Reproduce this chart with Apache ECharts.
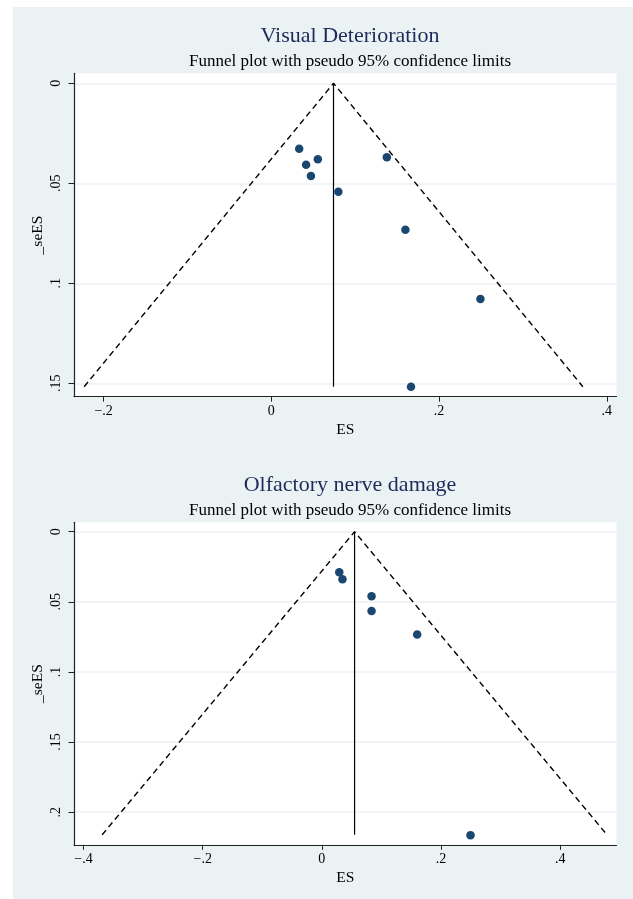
<!DOCTYPE html>
<html>
<head>
<meta charset="utf-8">
<script src="https://cdn.jsdelivr.net/npm/echarts@6/dist/echarts.min.js"></script>
<style>
html,body{margin:0;padding:0;background:#ffffff;}
#chart{width:633px;height:899px;}
</style>
</head>
<body>
<div id="chart"></div>
<script>
// ---- Panel 1: Visual Deterioration ----
const vdTitle = 'Visual Deterioration';
const vdES = [0.0332, 0.0554, 0.0414, 0.0472, 0.0799, 0.1377, 0.1598, 0.2493, 0.1665];
const vdSE = [0.0327, 0.0380, 0.0407, 0.0463, 0.0542, 0.0370, 0.0732, 0.1078, 0.1517];
const vdPooled = 0.0741;
const vdSeMax = 0.1517;
const vdLower = -0.2232;
const vdUpper = 0.3714;
const vdXTicks = [-0.2, 0, 0.2, 0.4];
const vdYTicks = [0, 0.05, 0.1, 0.15];
const vdXRange = [-0.2353, 0.4115];
const vdYRange = [-0.005, 0.1567];

// ---- Panel 2: Olfactory nerve damage ----
const ofTitle = 'Olfactory nerve damage';
const ofES = [0.0292, 0.0346, 0.0834, 0.0834, 0.1600, 0.2495];
const ofSE = [0.0290, 0.0340, 0.0461, 0.0565, 0.0734, 0.2164];
const ofPooled = 0.0549;
const ofSeMax = 0.2162;
const ofLower = -0.3688;
const ofUpper = 0.4786;
const ofXTicks = [-0.4, -0.2, 0, 0.2, 0.4];
const ofYTicks = [0, 0.05, 0.1, 0.15, 0.2];
const ofXRange = [-0.416, 0.4945];
const ofYRange = [-0.0067, 0.2233];

const subTitle = 'Funnel plot with pseudo 95% confidence limits';
const xName = 'ES';
const yName = '_seES';

const FONT = 'Liberation Serif';
const BG = '#eaf2f3';
const PT = '#1a476f';

function fmt(v) {
  if (v === 0) return '0';
  let s = String(Math.abs(v)).replace(/^0/, '');
  return (v < 0 ? '\u2212' : '') + s;
}

function zip(a, b) { return a.map((v, i) => [v, b[i]]); }

const grids = [
  {left: 74, top: 73.3, width: 542.5, height: 323.4},
  {left: 74, top: 522.3, width: 542.5, height: 322.5}
];

function xAxis(idx, range, ticks) {
  return {
    type: 'value', gridIndex: idx, min: range[0], max: range[1],
    name: xName, nameLocation: 'middle', nameGap: 25, nameMoveOverlap: false,
    nameTextStyle: {fontFamily: FONT, fontSize: 15.5, color: '#000'},
    axisLine: {show: true, onZero: false, lineStyle: {color: '#222', width: 1.2}},
    axisTick: {show: true, length: 5, customValues: ticks, lineStyle: {color: '#222'}},
    axisLabel: {customValues: ticks, formatter: fmt, margin: 8, fontFamily: FONT, fontSize: 14, color: '#000'},
    splitLine: {show: false}
  };
}
function yAxis(idx, range, ticks) {
  return {
    type: 'value', gridIndex: idx, min: range[0], max: range[1], inverse: true,
    name: yName, nameLocation: 'middle', nameGap: 28, nameMoveOverlap: false,
    nameTextStyle: {fontFamily: FONT, fontSize: 15.5, color: '#000'},
    axisLine: {show: true, onZero: false, lineStyle: {color: '#222', width: 1.2}},
    axisTick: {show: true, length: 5.5, customValues: ticks, lineStyle: {color: '#222'}},
    axisLabel: {customValues: ticks, formatter: fmt, rotate: 90, margin: 11, fontFamily: FONT, fontSize: 14, color: '#000'},
    splitLine: {show: true, lineStyle: {color: BG, width: 1.5}}
  };
}

function panelSeries(idx, es, se, pooled, seMax, lower, upper) {
  return [
    {
      type: 'line', xAxisIndex: idx, yAxisIndex: idx, z: 3, silent: true,
      data: [[lower, seMax], [pooled, 0], [upper, seMax]],
      symbol: 'none', lineStyle: {color: '#000', width: 1.4, type: [6, 4]}
    },
    {
      type: 'line', xAxisIndex: idx, yAxisIndex: idx, z: 3, silent: true,
      data: [[pooled, 0], [pooled, seMax]],
      symbol: 'none', lineStyle: {color: '#000', width: 1.2}
    },
    {
      type: 'scatter', xAxisIndex: idx, yAxisIndex: idx, z: 4,
      data: zip(es, se), symbol: 'circle', symbolSize: 8.5,
      itemStyle: {color: PT, opacity: 1}
    }
  ];
}

const chart = echarts.init(document.getElementById('chart'), null, {renderer: 'canvas'});
chart.setOption({
  animation: false,
  backgroundColor: '#ffffff',
  graphic: [{
    type: 'rect', z: -100, silent: true,
    shape: {x: 13, y: 7, width: 620, height: 892},
    style: {fill: BG}
  }],
  title: [
    {text: vdTitle, left: 345, top: 20, textAlign: 'center',
     textStyle: {fontFamily: FONT, fontSize: 22, fontWeight: 'normal', color: '#1c2b5a'}},
    {text: subTitle, left: 345, top: 48, textAlign: 'center',
     textStyle: {fontFamily: FONT, fontSize: 17, fontWeight: 'normal', color: '#000'}},
    {text: ofTitle, left: 345, top: 469, textAlign: 'center',
     textStyle: {fontFamily: FONT, fontSize: 22, fontWeight: 'normal', color: '#1c2b5a'}},
    {text: subTitle, left: 345, top: 497, textAlign: 'center',
     textStyle: {fontFamily: FONT, fontSize: 17, fontWeight: 'normal', color: '#000'}}
  ],
  grid: grids.map(g => Object.assign({show: true, backgroundColor: '#ffffff', borderWidth: 0, containLabel: false}, g)),
  xAxis: [xAxis(0, vdXRange, vdXTicks), xAxis(1, ofXRange, ofXTicks)],
  yAxis: [yAxis(0, vdYRange, vdYTicks), yAxis(1, ofYRange, ofYTicks)],
  series: [].concat(
    panelSeries(0, vdES, vdSE, vdPooled, vdSeMax, vdLower, vdUpper),
    panelSeries(1, ofES, ofSE, ofPooled, ofSeMax, ofLower, ofUpper)
  )
});
</script>
</body>
</html>
